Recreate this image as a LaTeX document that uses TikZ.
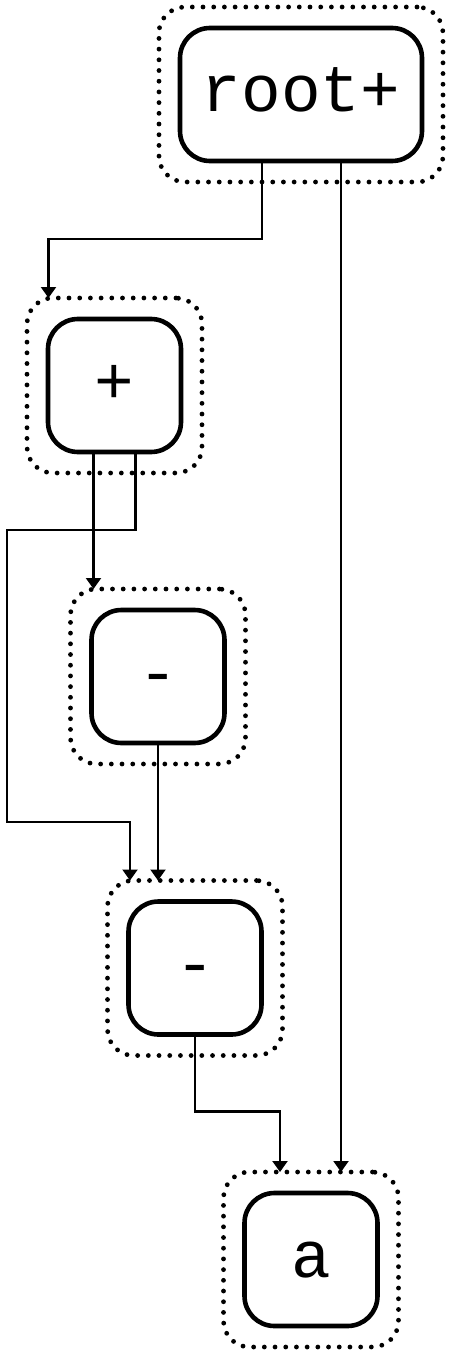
\documentclass[tikz,border=0pt]{standalone}
\usepackage{fontspec}
\setmonofont{Liberation Mono}
\usetikzlibrary{arrows.meta,positioning,fit}

\begin{document}
\begin{tikzpicture}[
    x=1pt, y=-1pt,
    term/.style={rectangle, rounded corners=30pt, draw, line width=4.6pt, outer sep=0pt,
                 minimum width=133pt, minimum height=133pt, inner sep=0pt,
                 text height=35pt, text depth=0pt,
                 font=\fontsize{66}{66}\selectfont\ttfamily},
    frame/.style={rectangle, rounded corners=26pt, draw, line width=4.8pt, line cap=round,
                  dash pattern=on 0pt off 10.7pt, inner sep=21pt, outer sep=0pt},
    arr/.style={-{Triangle[width=15pt,length=11pt]}, line width=2.1pt}
]
\useasboundingbox (0,0) rectangle (452,1359);

% expression tree
\node[term, minimum width=242pt] (root) at (301,94.5) {root+};
\node[frame, fit=(root)] (rootf) {};
\node[term] (plus) at (114.5,385.5) {+};
\node[frame, fit=(plus)] (plusf) {};
\node[term] (m1) at (158,676.5) {-};
\node[frame, fit=(m1)] (m1f) {};
\node[term] (m2) at (195,968) {-};
\node[frame, fit=(m2)] (m2f) {};
\node[term] (a) at (311,1259.5) {a};
\node[frame, fit=(a)] (af) {};

\coordinate (bend) at (7,822);

\draw[arr] ([xshift=-39pt]root.south) -- ++(0,78) -| ([xshift=-66pt]plusf.north);
\draw[arr] ([xshift=40pt]root.south) -- ([xshift=40pt]root.south |- af.north);
\draw[arr] ([xshift=-21pt]plus.south) -- ([xshift=-21pt]plus.south |- m1f.north);
\draw[arr] ([xshift=21pt]plus.south) -- ++(0,78) -| (bend) -| ([xshift=-65pt]m2f.north);
\draw[arr] (m1.south) -- (m1.south |- m2f.north);
\draw[arr] (m2.south) -- ++(0,77) -| ([xshift=-31pt]af.north);
\end{tikzpicture}
\end{document}
